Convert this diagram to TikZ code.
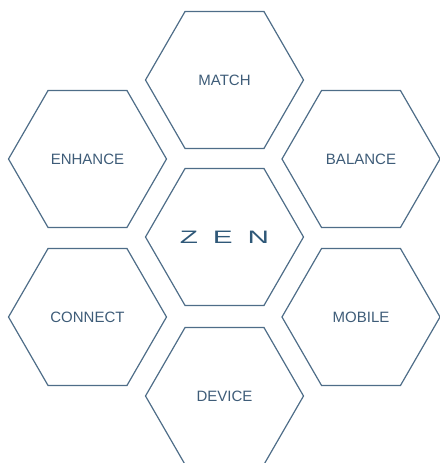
\documentclass[tikz,border=0pt]{standalone}
\usepackage{fontspec}
\setmainfont{Liberation Sans}
\definecolor{hexline}{HTML}{4E6D88}
\definecolor{hextext}{HTML}{3E5C78}
\definecolor{zentext}{HTML}{2F5878}
\begin{document}
\begin{tikzpicture}[x=1pt,y=1pt,
  lbl/.style={text=hextext,font=\fontsize{15}{15}\selectfont,inner sep=0pt},
  hexpath/.style={draw=hexline,line width=1.2pt,line join=miter}]
\useasboundingbox (0,0) rectangle (439,463);
\def\R{79}
\node[lbl] (match)   at (224.5,383) {MATCH};
\node[lbl] (enhance) at (87.5,304)  {ENHANCE};
\node[lbl] (balance) at (361,304)   {BALANCE};
\node[lbl,text=zentext,font=\fontsize{18}{18}\selectfont,xscale=1.65] (zen) at (224.5,226) {Z\hspace{9pt}E\hspace{9pt}N};
\node[lbl] (connect) at (87.5,146)  {CONNECT};
\node[lbl] (mobile)  at (361,146)   {MOBILE};
\node[lbl] (device)  at (224.5,67)  {DEVICE};
\foreach \n in {match,enhance,balance,zen,connect,mobile,device}{
  \draw[hexpath,shift={(\n.center)}] (0:\R) -- (60:\R) -- (120:\R) -- (180:\R) -- (240:\R) -- (300:\R) -- cycle;
}
\end{tikzpicture}
\end{document}
